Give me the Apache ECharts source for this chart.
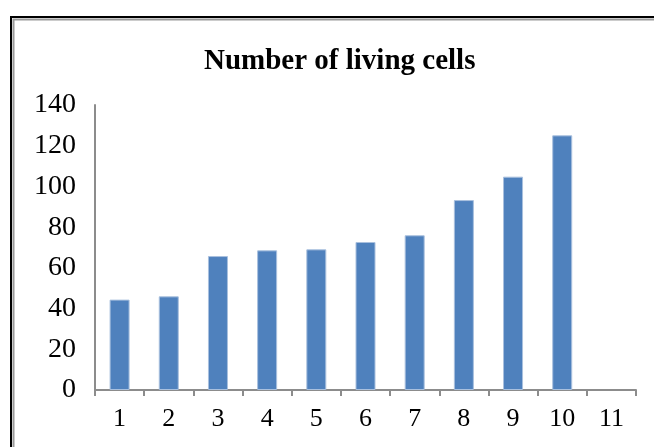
<!DOCTYPE html>
<html>
<head>
<meta charset="utf-8">
<script src="https://cdn.jsdelivr.net/npm/echarts@6/dist/echarts.min.js"></script>
<style>
  html, body { margin: 0; padding: 0; background: #fff; }
  #chart { width: 654px; height: 447px; }
</style>
</head>
<body>
<div id="chart"></div>
<script>
// 数据
const categories = ['1', '2', '3', '4', '5', '6', '7', '8', '9', '10', '11'];
const cells = [44.4, 46.0, 65.8, 68.6, 69.1, 72.7, 76.0, 93.3, 104.8, 125.1, null];
const chartTitle = 'Number of living cells';

var chartDom = document.getElementById('chart');
var myChart = echarts.init(chartDom);
var option;
option = {
    backgroundColor: '#fff',
    animation: false,
    title: {
        text: chartTitle,
        left: 199,
        top: 42,
        textStyle: {
            fontFamily: 'Liberation Serif',
            fontWeight: 'bold',
            fontSize: 29,
            color: '#000'
        }
    },
    // 外框
    graphic: [
        {
            type: 'rect',
            shape: { x: 11, y: 17, width: 700, height: 500 },
            style: { fill: 'none', stroke: '#000', lineWidth: 2 }
        },
        {
            type: 'rect',
            shape: { x: 13.5, y: 19.5, width: 700, height: 500 },
            style: { fill: 'none', stroke: '#9a9a9a', lineWidth: 2 }
        }
    ],
    grid: {
        left: 95,
        right: 18,
        top: 105,
        bottom: 57
    },
    xAxis: {
        type: 'category',
        data: categories,
        axisLine: { lineStyle: { color: '#8c8c8c', width: 2 } },
        axisTick: { show: true, length: 6, lineStyle: { color: '#8c8c8c', width: 2 } },
        axisLabel: {
            margin: 16,
            fontFamily: 'Liberation Serif',
            fontSize: 26,
            color: '#000'
        }
    },
    yAxis: {
        type: 'value',
        min: 0,
        max: 140,
        interval: 20,
        axisLine: { show: true, lineStyle: { color: '#8c8c8c', width: 2 } },
        axisTick: { show: false },
        splitLine: { show: false },
        axisLabel: {
            margin: 19,
            fontFamily: 'Liberation Serif',
            fontSize: 28,
            color: '#000'
        }
    },
    series: [
        {
            type: 'bar',
            data: cells,
            barWidth: 20,
            itemStyle: {
                color: '#4f81bd',
                borderColor: '#a9c0de',
                borderWidth: 1
            }
        }
    ]
};

option && myChart.setOption(option);
</script>
</body>
</html>
